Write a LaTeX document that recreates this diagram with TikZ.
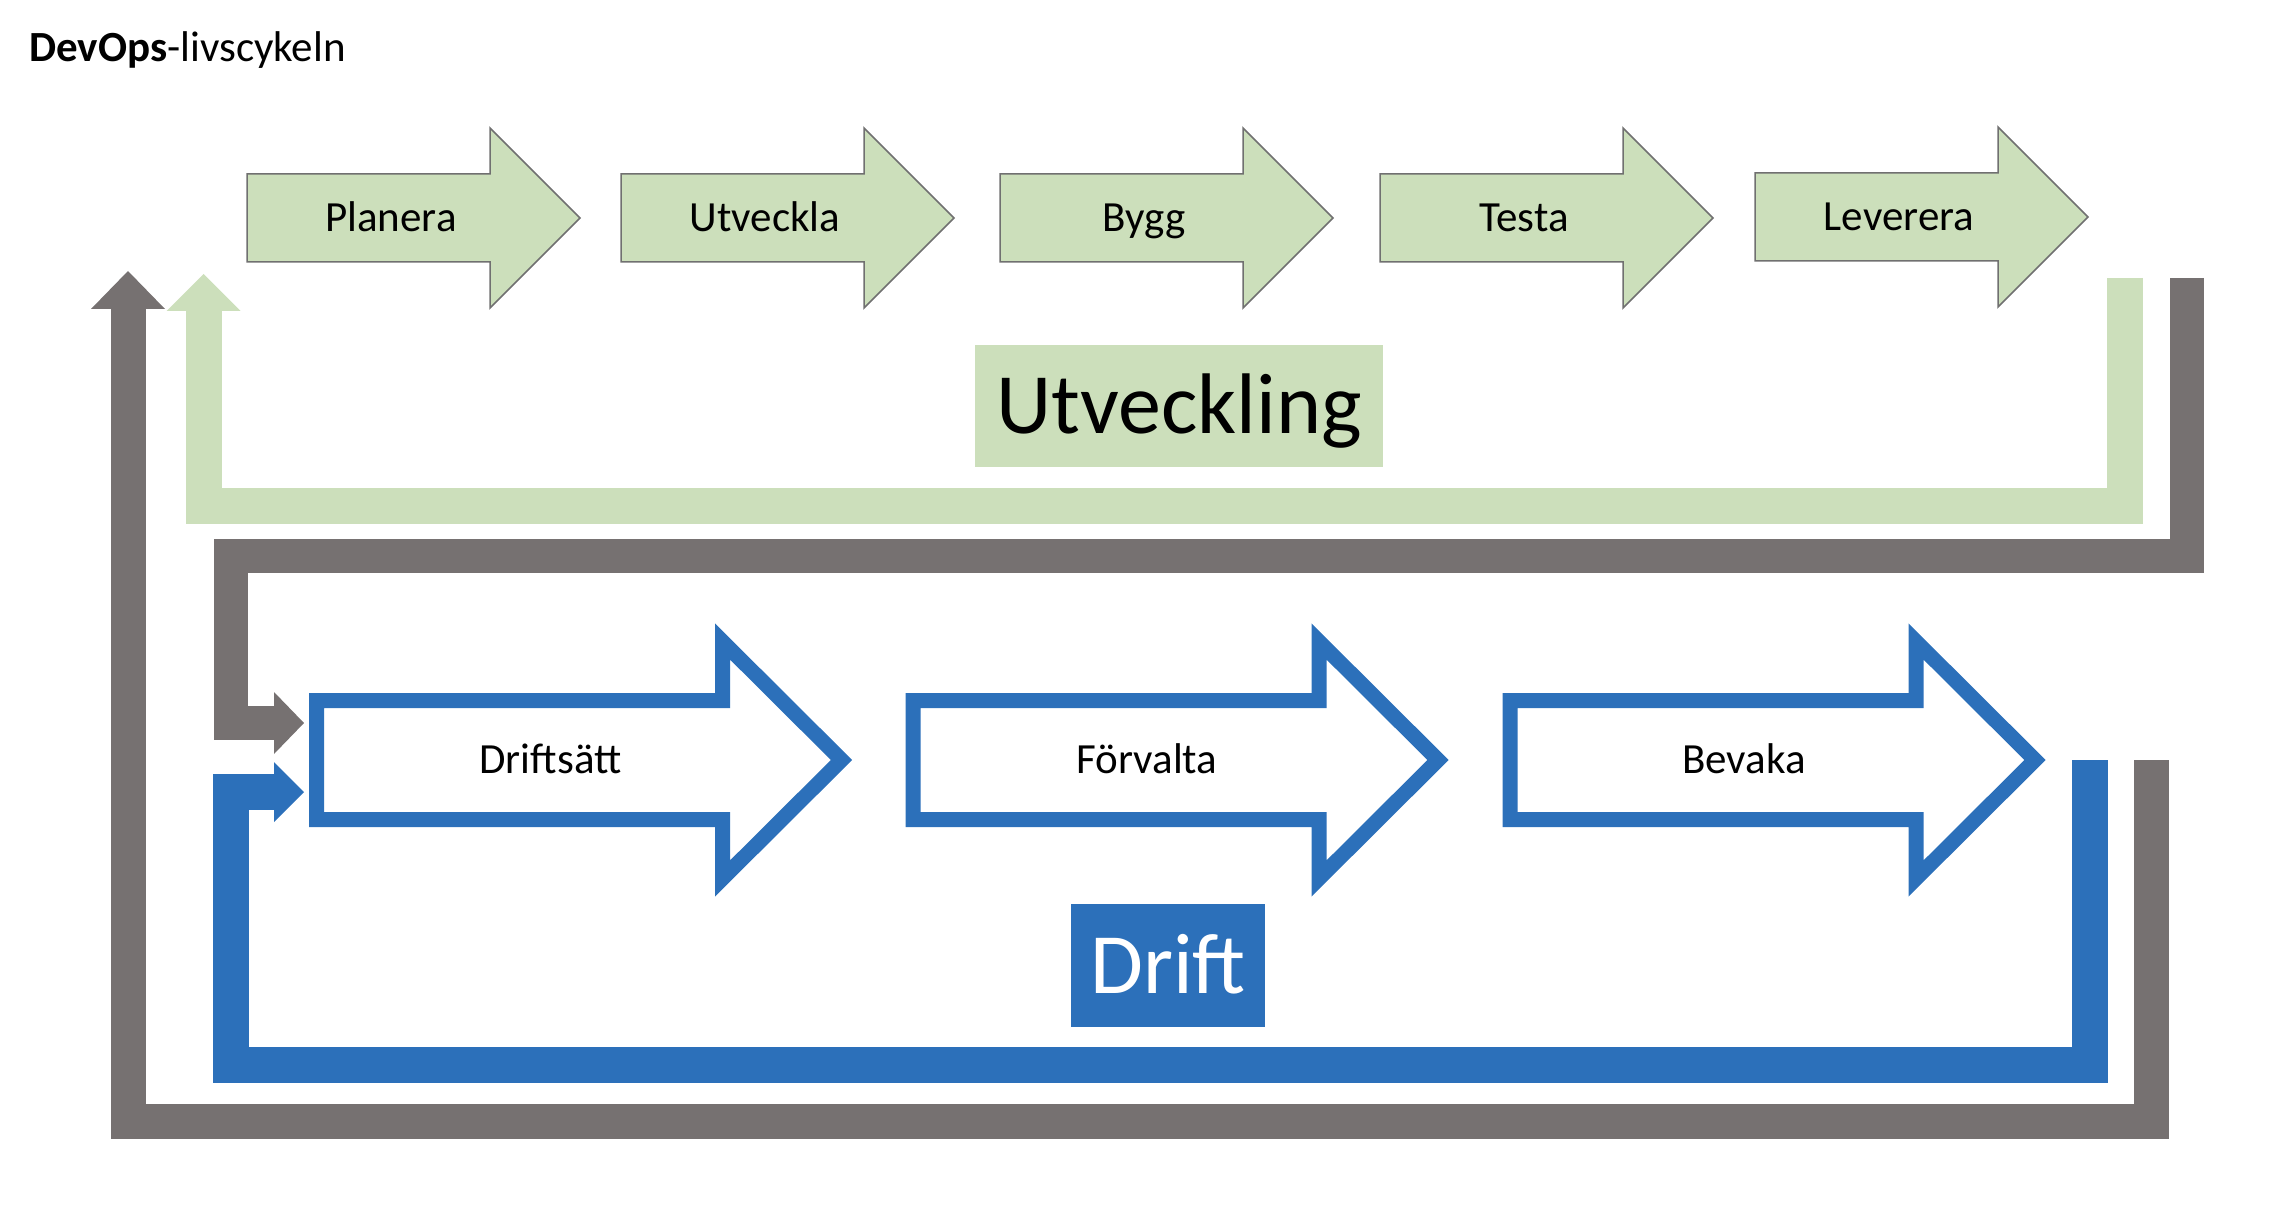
\documentclass[tikz,border=0pt]{standalone}
\usepackage{fontspec}
\setmainfont{Carlito}
\usetikzlibrary{arrows.meta}

\definecolor{utvgron}{RGB}{204,223,187}
\definecolor{loopgra}{RGB}{118,113,113}
\definecolor{driftbla}{RGB}{44,112,186}
\definecolor{kantgra}{RGB}{112,112,112}

\tikzset{
  utvform/.style={fill=utvgron, draw=kantgra, line width=1.5pt, line join=miter},
  driftform/.style={fill=white, draw=driftbla, line width=15pt, line join=miter},
  etikett/.style={inner sep=0pt, font=\fontsize{43}{52}\selectfont, text height=27.7pt, text depth=0pt},
  rubrik/.style={inner sep=0pt, font=\fontsize{86}{103}\selectfont, text height=55.4pt, text depth=0pt},
  slinga/.style={line join=miter, line cap=butt},
  pics/utvpil/.style={code={\draw[utvform] (0,-44) -- (243,-44) -- (243,-90) -- (333,0) -- (243,90) -- (243,44) -- (0,44) -- cycle;}},
  pics/driftpil/.style={code={\draw[driftform] (0,-59.5) -- (406,-59.5) -- (406,-118.5) -- (525,0) -- (406,118.5) -- (406,59.5) -- (0,59.5) -- cycle;}},
}

\begin{document}
\begin{tikzpicture}[x=1pt, y=-1pt]
  \useasboundingbox (0,0) rectangle (2272,1222);

  \node[anchor=base west, inner sep=0pt, font=\fontsize{43}{52}\selectfont] (titel) at (29,62) {\textbf{DevOps}-livscykeln};

  % loops
  \coordinate (utvstart) at (2125,278);
  \coordinate (utvhorn) at (203.5,506);
  \coordinate (utvslut) at (203.5,274);
  \draw[slinga, utvgron, line width=36pt, -{Triangle[length=37pt, width=74pt, line width=0pt]}]
    (utvstart) |- (utvhorn) -- (utvslut);

  \coordinate (gra1start) at (2187,278);
  \coordinate (gra1horn) at (231,556);
  \coordinate (gra1slut) at (304,723);
  \draw[slinga, loopgra, line width=34pt, -{Triangle[length=30pt, width=62pt, line width=0pt]}]
    (gra1start) |- (gra1horn) |- (gra1slut);

  \coordinate (blastart) at (2090,760);
  \coordinate (blahorn) at (231,1065);
  \coordinate (blaslut) at (304,792);
  \draw[slinga, driftbla, line width=36pt, -{Triangle[length=30pt, width=60pt, line width=0pt]}]
    (blastart) |- (blahorn) |- (blaslut);

  \coordinate (gra2start) at (2151,760);
  \coordinate (gra2horn) at (128,1121);
  \coordinate (gra2slut) at (128,271);
  \draw[slinga, loopgra, line width=35pt, -{Triangle[length=38pt, width=74pt, line width=0pt]}]
    (gra2start) |- (gra2horn) -- (gra2slut);

  % Place nodes
  \pic at (247,218) {utvpil};
  \pic at (621,218) {utvpil};
  \pic at (1000,218) {utvpil};
  \pic at (1380,218) {utvpil};
  \pic at (1755,217) {utvpil};
  \node[etikett] (planera) at (391,218) {Planera};
  \node[etikett] (utveckla) at (765,218) {Utveckla};
  \node[etikett] (bygg) at (1144,218) {Bygg};
  \node[etikett] (testa) at (1524,218) {Testa};
  \node[etikett] (leverera) at (1899,217) {Leverera};

  \pic at (316.5,760) {driftpil};
  \pic at (913,760) {driftpil};
  \pic at (1510,760) {driftpil};
  \node[etikett] (driftsatt) at (550.5,760) {Driftsätt};
  \node[etikett] (forvalta) at (1147,760) {Förvalta};
  \node[etikett] (bevaka) at (1744,760) {Bevaka};

  \node[rubrik, fill=utvgron, minimum width=408pt, minimum height=122pt] (utveckling) at (1179,406) {Utveckling};
  \node[rubrik, fill=driftbla, text=white, minimum width=194pt, minimum height=123pt] (drift) at (1168,965.5) {Drift};

\end{tikzpicture}
\end{document}
